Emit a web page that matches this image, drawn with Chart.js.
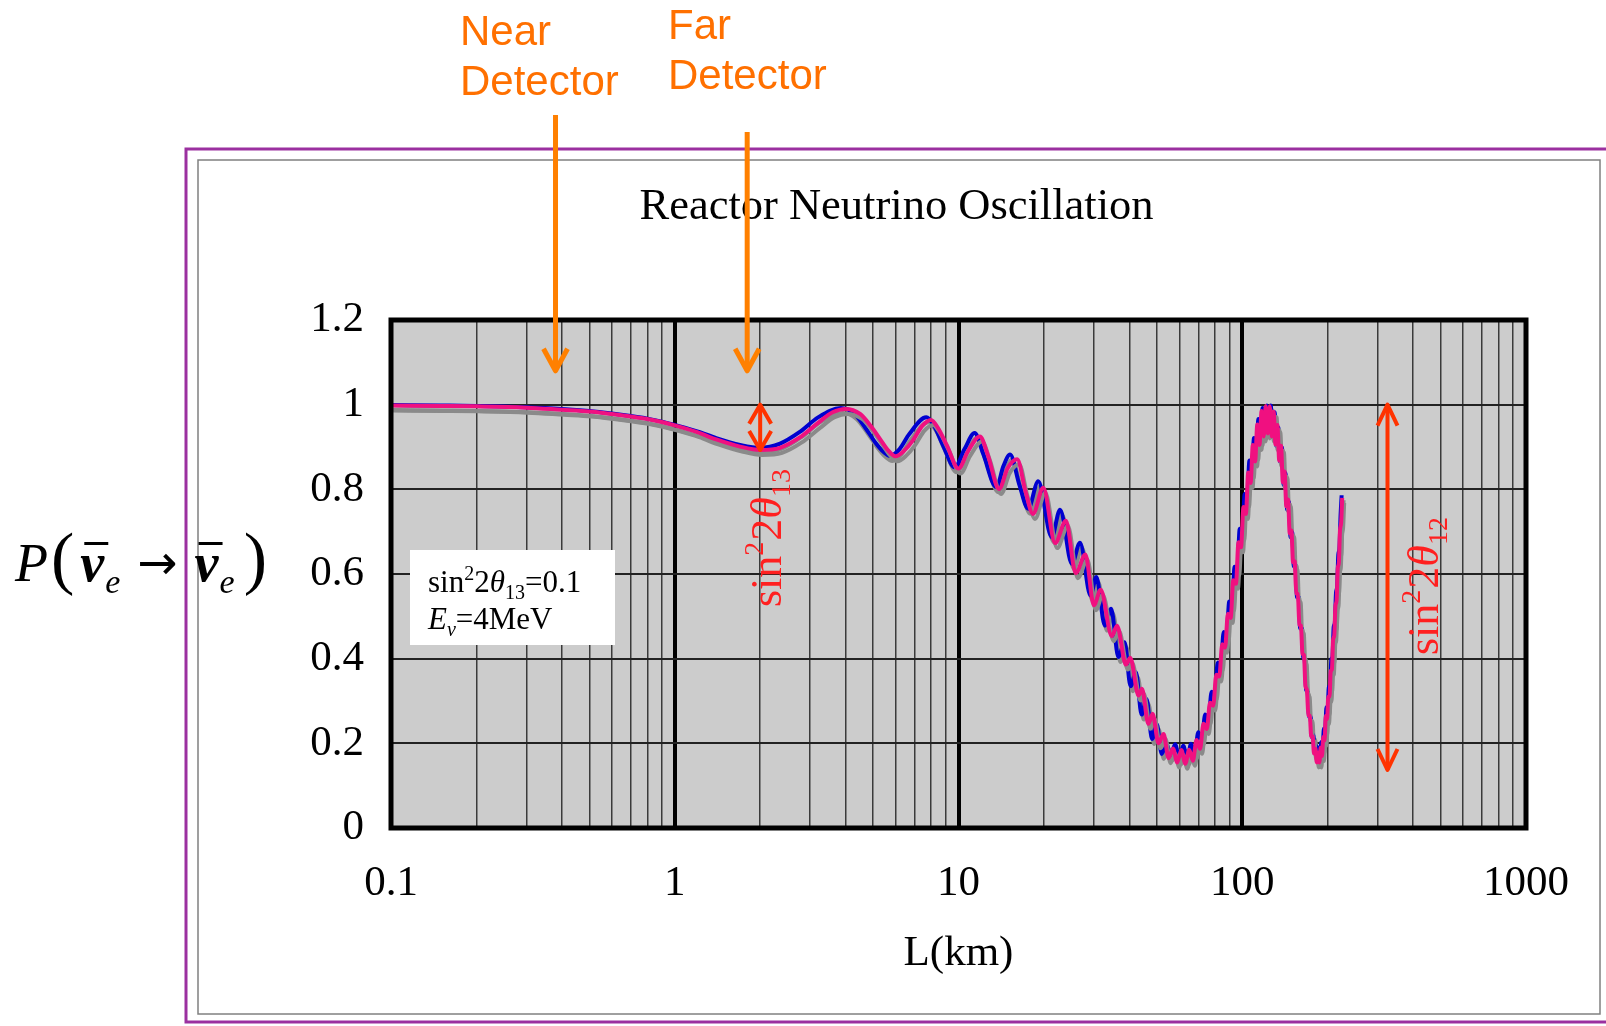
<!DOCTYPE html>
<html>
<head>
<meta charset="utf-8">
<title>Reactor Neutrino Oscillation</title>
<script src="https://cdn.jsdelivr.net/npm/chart.js@4.4.1/dist/chart.umd.min.js"></script>
<style>
  html, body { margin: 0; padding: 0; background: #fff; }
  #wrap { width: 1606px; height: 1026px; position: relative; }
</style>
</head>
<body>
<div id="wrap"><canvas id="oscChart"></canvas></div>
<script>
// axis ticks
const xMajorTicks = [0.1, 1, 10, 100, 1000];
const xTickLabels = ["0.1", "1", "10", "100", "1000"];
const xMinorSteps = [2, 3, 4, 5, 6, 7, 8, 9];
const yTickLabels = ["0", "0.2", "0.4", "0.6", "0.8", "1", "1.2"];

// pink curve: distance (km) and survival probability
const pinkKm = [
  0.1, 0.15, 0.2, 0.3, 0.4, 0.5, 0.6, 0.7, 0.8, 0.9, 1.0, 1.2, 1.4, 1.7, 2.0, 2.35, 2.75, 3.2, 3.6, 4.0,
  4.5, 4.9, 5.3, 5.6, 6.0, 6.45, 6.9, 7.45, 8.0, 8.45, 9.1, 10.0, 10.8, 11.9, 12.7, 13.9, 14.9, 16.1, 17.2, 18.3,
  19.9, 21.9, 23.9, 25.9, 28.0, 30.0, 31.7, 34.7, 36.2, 38.9, 40.3, 43.1, 44.3, 46.7, 48.3, 50.7, 52.8,
  55, 57, 59, 61, 63, 65, 67, 69, 71, 73, 75, 77, 79, 81, 83, 85, 87, 89, 91, 93, 95, 97, 99,
  101, 103, 105, 107, 109, 111, 113, 115, 117, 119, 121, 123, 125, 127, 129, 131, 133, 135, 137, 139,
  141, 143, 145, 147, 149, 151, 153, 155, 157, 159, 161, 163, 165, 167, 169, 171, 173, 175, 177, 179,
  181, 183, 185, 187, 189, 191, 193, 195, 197, 199, 201, 203, 205, 207, 209, 211, 213, 215, 217, 219,
  221, 223, 225
];
const pinkProb = [
  0.998, 0.997, 0.996, 0.993, 0.988, 0.984, 0.978, 0.972, 0.966, 0.959, 0.951, 0.935, 0.918, 0.901, 0.893, 0.898, 0.922, 0.957, 0.982, 0.990,
  0.978, 0.950, 0.918, 0.895, 0.878, 0.892, 0.915, 0.950, 0.964, 0.946, 0.904, 0.849, 0.890, 0.925, 0.880, 0.801, 0.850, 0.871, 0.797, 0.742,
  0.804, 0.673, 0.726, 0.602, 0.646, 0.526, 0.563, 0.453, 0.478, 0.386, 0.402, 0.313, 0.329, 0.246, 0.270, 0.200, 0.222,
  0.165, 0.188, 0.155, 0.184, 0.152, 0.185, 0.159, 0.208, 0.187, 0.246, 0.234, 0.296, 0.289, 0.362, 0.358, 0.434, 0.426, 0.506, 0.496, 0.585, 0.577, 0.675, 0.663,
  0.758, 0.742, 0.840, 0.815, 0.905, 0.866, 0.953, 0.905, 0.985, 0.925, 0.997, 0.932, 0.996, 0.925, 0.983, 0.906, 0.952, 0.868, 0.903, 0.817,
  0.842, 0.760, 0.776, 0.696, 0.703, 0.628, 0.630, 0.554, 0.553, 0.480, 0.478, 0.412, 0.408, 0.335, 0.326, 0.266, 0.265, 0.216, 0.217, 0.176,
  0.188, 0.155, 0.178, 0.155, 0.190, 0.170, 0.215, 0.207, 0.265, 0.257, 0.310, 0.310, 0.370, 0.375, 0.445, 0.455, 0.525, 0.537, 0.613, 0.627,
  0.703, 0.720, 0.780
];

// blue curve
const blueKm = [
  0.1, 0.15, 0.2, 0.3, 0.4, 0.5, 0.6, 0.7, 0.8, 0.9, 1.0, 1.2, 1.4, 1.7, 2.0, 2.35, 2.75, 3.2, 3.85, 4.3,
  4.7, 5.1, 5.45, 5.75, 6.2, 6.7, 7.7, 8.2, 8.8, 9.7, 10.5, 11.4, 12.2, 13.6, 14.4, 15.2, 16.4, 17.6, 19.1, 21.3,
  22.8, 25.1, 26.8, 29.2, 30.6, 32.8, 34.5, 36.6, 38.5, 40.4, 42.2, 44.2, 46.0, 48.1, 50.0, 52.0, 54.0,
  56, 58, 60, 62, 64, 66, 68, 70, 72, 74, 76, 78, 80, 82, 84, 86, 88, 90, 92, 94, 96, 98,
  100, 102, 104, 106, 108, 110, 112, 114, 116, 118, 120, 122, 124, 126, 128, 130, 132, 134, 136, 138,
  140, 142, 144, 146, 148, 150, 152, 154, 156, 158, 160, 162, 164, 166, 168, 170, 172, 174, 176, 178,
  180, 182, 184, 186, 188, 190, 192, 194, 196, 198, 200, 202, 204, 206, 208, 210, 212, 214, 216, 218,
  220, 222, 224
];
const blueProb = [
  0.999, 0.998, 0.997, 0.994, 0.990, 0.985, 0.979, 0.973, 0.967, 0.960, 0.952, 0.937, 0.921, 0.905, 0.898, 0.908, 0.935, 0.970, 0.992, 0.978,
  0.945, 0.910, 0.888, 0.879, 0.895, 0.930, 0.970, 0.950, 0.905, 0.852, 0.895, 0.933, 0.885, 0.805, 0.855, 0.882, 0.810, 0.754, 0.819, 0.687,
  0.752, 0.624, 0.674, 0.549, 0.593, 0.478, 0.518, 0.404, 0.439, 0.335, 0.368, 0.268, 0.305, 0.210, 0.245, 0.175, 0.200,
  0.172, 0.198, 0.163, 0.194, 0.163, 0.199, 0.176, 0.226, 0.209, 0.268, 0.257, 0.322, 0.316, 0.391, 0.384, 0.463, 0.452, 0.535, 0.526, 0.617, 0.609, 0.707,
  0.692, 0.789, 0.771, 0.868, 0.839, 0.921, 0.882, 0.966, 0.916, 0.992, 0.932, 0.998, 0.936, 0.998, 0.926, 0.982, 0.902, 0.946, 0.865, 0.899,
  0.810, 0.838, 0.752, 0.770, 0.687, 0.698, 0.618, 0.621, 0.545, 0.545, 0.472, 0.472, 0.404, 0.397, 0.326, 0.321, 0.262, 0.264, 0.214, 0.220,
  0.179, 0.195, 0.164, 0.190, 0.169, 0.203, 0.190, 0.235, 0.232, 0.285, 0.280, 0.335, 0.335, 0.398, 0.405, 0.475, 0.485, 0.556, 0.570, 0.645,
  0.660, 0.737, 0.786
];

// annotation anchors
const nearDetectorKm = 0.38;
const farDetectorKm = 1.8;
const theta13Km = 2.0;
const theta13Span = [1.0, 0.893];
const theta12Km = 325;
const theta12Span = [1.0, 0.137];

const SERIF = '"Liberation Serif", "Times New Roman", serif';
const SANS = '"Liberation Sans", Arial, sans-serif';

const xGridValues = [];
xMajorTicks.forEach((d, i) => {
  xGridValues.push(d);
  if (i < xMajorTicks.length - 1) {
    xMinorSteps.forEach((m) => xGridValues.push(Number((d * m).toFixed(2))));
  }
});

// draw a run of text pieces: [text, font, dy, gap]
function textRun(ctx, x, y, parts) {
  for (const [t, font, dy = 0, gap = 0] of parts) {
    ctx.font = font;
    x += gap;
    ctx.fillText(t, x, y + dy);
    x += ctx.measureText(t).width;
  }
  return x;
}

function nuBar(ctx, x, y) {
  ctx.font = "italic bold 54px " + SERIF;
  const w = ctx.measureText("\u03bd").width;
  ctx.fillText("\u03bd", x, y);
  ctx.fillRect(x + 4, y - 39, w, 3);
  return x + w;
}

function arrow(ctx, x, y1, y2, color, lw, hw, hl, both) {
  ctx.save();
  ctx.strokeStyle = color;
  ctx.lineWidth = lw;
  ctx.lineJoin = "round";
  ctx.beginPath();
  ctx.moveTo(x, y1);
  ctx.lineTo(x, y2);
  ctx.stroke();
  ctx.beginPath();
  ctx.moveTo(x - hw, y2 - hl);
  ctx.lineTo(x, y2);
  ctx.lineTo(x + hw, y2 - hl);
  ctx.stroke();
  if (both) {
    ctx.beginPath();
    ctx.moveTo(x - hw, y1 + hl);
    ctx.lineTo(x, y1);
    ctx.lineTo(x + hw, y1 + hl);
    ctx.stroke();
  }
  ctx.restore();
}

function rotLabel(ctx, x, y, sub) {
  ctx.save();
  ctx.translate(x, y);
  ctx.rotate(-Math.PI / 2);
  ctx.fillStyle = "#ff2020";
  ctx.textBaseline = "alphabetic";
  textRun(ctx, 0, 0, [
    ["sin", "44px " + SERIF],
    ["2", "28px " + SERIF, -18],
    ["2", "44px " + SERIF, 0, 1],
    ["\u03b8", "italic 44px " + SERIF],
    [sub, "28px " + SERIF, 9]
  ]);
  ctx.restore();
}

const pageBackground = {
  id: "pageBackground",
  beforeDraw(chart) {
    const { ctx, chartArea: a } = chart;
    ctx.save();
    ctx.fillStyle = "#ffffff";
    ctx.fillRect(0, 0, chart.width, chart.height);
    ctx.fillStyle = "#cccccc";
    ctx.fillRect(a.left, a.top, a.right - a.left, a.bottom - a.top);
    ctx.restore();
  }
};

// grey drop shadow under the curves
const lineShadow = {
  id: "lineShadow",
  beforeDatasetDraw(chart) {
    const ctx = chart.ctx;
    ctx.save();
    ctx.shadowColor = "#8a8a8a";
    ctx.shadowOffsetX = 2;
    ctx.shadowOffsetY = 5;
    ctx.shadowBlur = 0;
  },
  afterDatasetDraw(chart) {
    chart.ctx.restore();
  }
};

const decorations = {
  id: "decorations",
  afterDraw(chart) {
    const { ctx, chartArea: a } = chart;
    const xs = chart.scales.x;
    const ys = chart.scales.y;
    ctx.save();

    // plot border
    ctx.strokeStyle = "#000";
    ctx.lineWidth = 5;
    ctx.strokeRect(a.left, a.top, a.right - a.left, a.bottom - a.top);

    // frames
    ctx.strokeStyle = "#9b30a0";
    ctx.lineWidth = 3;
    ctx.strokeRect(186, 149, 1430, 873);
    ctx.strokeStyle = "#808080";
    ctx.lineWidth = 1.5;
    ctx.strokeRect(198, 160, 1402, 854);

    // legend box
    ctx.fillStyle = "#fff";
    ctx.fillRect(410, 550, 205, 95);
    ctx.fillStyle = "#000";
    ctx.textAlign = "left";
    ctx.textBaseline = "alphabetic";
    textRun(ctx, 428, 592, [
      ["sin", "31px " + SERIF],
      ["2", "20px " + SERIF, -12],
      ["2", "31px " + SERIF],
      ["\u03b8", "italic 31px " + SERIF],
      ["13", "20px " + SERIF, 7],
      ["=0.1", "31px " + SERIF]
    ]);
    textRun(ctx, 428, 629, [
      ["E", "italic 31px " + SERIF],
      ["\u03bd", "italic 20px " + SERIF, 7],
      ["=4MeV", "31px " + SERIF]
    ]);

    // y axis label P(nu_e -> nu_e)
    const by = 581;
    let x = textRun(ctx, 15, by, [["P", "italic 54px " + SERIF], ["(", "70px " + SERIF, 0, 3]]);
    x = nuBar(ctx, x + 6, by);
    x = textRun(ctx, x, by, [["e", "italic 34px " + SERIF, 12, 1], ["\u2192", '48px "DejaVu Sans", sans-serif', -2, 17]]);
    x = nuBar(ctx, x + 17, by);
    textRun(ctx, x, by, [["e", "italic 34px " + SERIF, 12, 1], [")", "70px " + SERIF, 0, 9]]);

    // detector arrows and labels
    const tipY = ys.getPixelForValue(1.08);
    const xn = xs.getPixelForValue(nearDetectorKm);
    const xf = xs.getPixelForValue(farDetectorKm);
    arrow(ctx, xn, 115, tipY, "#ff8000", 5, 12, 22, false);
    arrow(ctx, xf, 132, tipY, "#ff8000", 5, 12, 22, false);
    ctx.fillStyle = "#ff7000";
    ctx.font = "42px " + SANS;
    ctx.fillText("Near", 460, 45);
    ctx.fillText("Detector", 460, 95);
    ctx.fillText("Far", 668, 39);
    ctx.fillText("Detector", 668, 89);

    // mixing angle arrows
    const x13 = xs.getPixelForValue(theta13Km);
    arrow(ctx, x13, ys.getPixelForValue(theta13Span[0]), ys.getPixelForValue(theta13Span[1]), "#ff3300", 4, 11, 19, true);
    rotLabel(ctx, x13 + 21, 607, "13");
    const x12 = xs.getPixelForValue(theta12Km);
    arrow(ctx, x12, ys.getPixelForValue(theta12Span[0]), ys.getPixelForValue(theta12Span[1]), "#ff3300", 4, 10, 21, true);
    rotLabel(ctx, x12 + 51, 655, "12");

    ctx.restore();
  }
};

const ctx = document.getElementById("oscChart");

new Chart(ctx, {
  type: "line",
  data: {
    datasets: [
      {
        label: "pink",
        data: pinkKm.map((km, i) => ({ x: km, y: pinkProb[i] })),
        borderColor: "#f01080",
        borderWidth: 4,
        pointRadius: 0,
        cubicInterpolationMode: "monotone",
        fill: false
      },
      {
        label: "blue",
        data: blueKm.map((km, i) => ({ x: km, y: blueProb[i] })),
        borderColor: "#0000d0",
        borderWidth: 4,
        pointRadius: 0,
        cubicInterpolationMode: "monotone",
        fill: false
      }
    ]
  },
  options: {
    responsive: true,
    maintainAspectRatio: false,
    devicePixelRatio: 1,
    animation: false,
    layout: { padding: { top: 170, left: 267, right: 80, bottom: 0 } },
    plugins: {
      legend: { display: false },
      tooltip: { enabled: false },
      title: {
        display: true,
        text: "Reactor Neutrino Oscillation",
        color: "#000",
        font: { family: SERIF, size: 44.5, weight: "normal" },
        padding: { top: 10.6, bottom: 86 }
      }
    },
    scales: {
      x: {
        type: "logarithmic",
        min: 0.1,
        max: 1000,
        afterBuildTicks: (scale) => {
          scale.ticks = xGridValues.map((v) => ({ value: v }));
        },
        afterFit: (scale) => {
          scale.height = 198;
        },
        ticks: {
          autoSkip: false,
          maxRotation: 0,
          minRotation: 0,
          padding: 30,
          color: "#000",
          font: { family: SERIF, size: 43 },
          callback: (v) => {
            const i = xMajorTicks.indexOf(v);
            return i >= 0 ? xTickLabels[i] : "";
          }
        },
        grid: {
          drawTicks: false,
          color: (c) => (xMajorTicks.includes(c.tick.value) ? "#000" : "#3a3a3a"),
          lineWidth: (c) => (xMajorTicks.includes(c.tick.value) ? 4 : 1.5)
        },
        border: { display: false },
        title: {
          display: true,
          text: "L(km)",
          color: "#000",
          font: { family: SERIF, size: 43 },
          padding: { top: 0, bottom: 46 }
        }
      },
      y: {
        min: 0,
        max: 1.2,
        afterFit: (scale) => {
          scale.width = 124;
        },
        ticks: {
          stepSize: 0.2,
          padding: 27,
          color: "#000",
          font: { family: SERIF, size: 43 },
          callback: (v) => yTickLabels[Math.round(v * 5)]
        },
        grid: { drawTicks: false, color: "#222", lineWidth: 2 },
        border: { display: false }
      }
    }
  },
  plugins: [pageBackground, lineShadow, decorations]
});
</script>
</body>
</html>
